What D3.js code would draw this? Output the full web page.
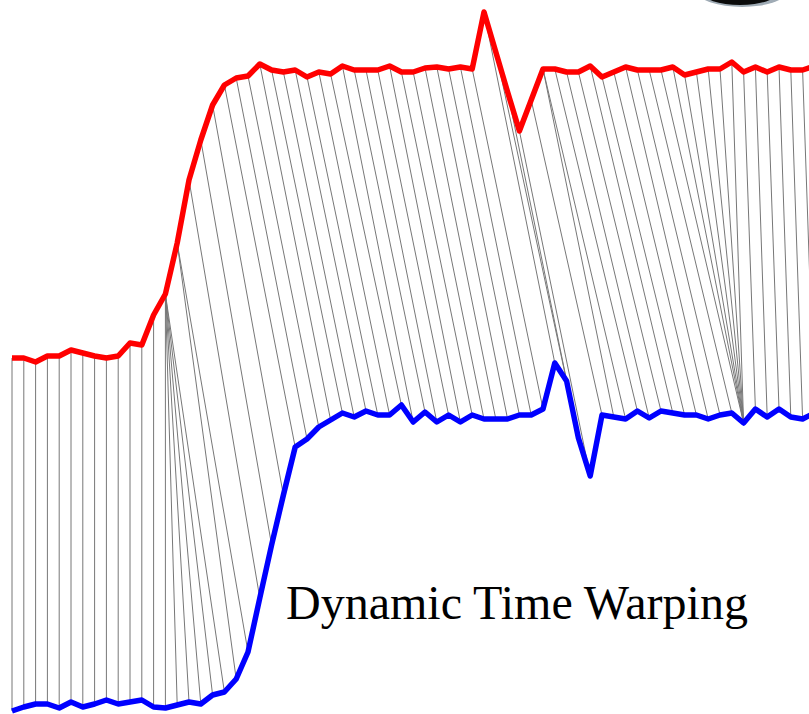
<!DOCTYPE html>
<html>
<head>
<meta charset="utf-8">
<script src="https://cdn.jsdelivr.net/npm/d3@7"></script>
<style>
  html, body { margin: 0; padding: 0; background: #ffffff; }
  svg { display: block; }
</style>
</head>
<body>
<div id="chart"></div>
<script>
// ---- data ----
// red series (upper signal) values, one per time step
const redValues = [356, 356, 352, 358, 358, 364, 361, 358, 356, 358,
  371, 369, 399, 420, 471, 534, 574, 609, 629, 636,
  638, 650, 644, 642, 644, 637, 642, 640, 648, 644,
  644, 644, 648, 642, 642, 646, 647, 645, 647, 645,
  702, 662, 622, 583, 614, 645, 645, 642, 642, 648,
  637, 642, 647, 644, 644, 644, 647, 639, 642, 645,
  645, 652, 642, 647, 642, 647, 644, 644, 648];

// blue series (lower signal) values, one per time step
const blueValues = [3, 7, 10, 10, 6, 12, 7, 10, 14, 10,
  12, 14, 7, 6, 9, 12, 10, 19, 22, 35,
  62, 116, 169, 219, 267, 275, 287, 294, 301, 297,
  303, 299, 299, 309, 292, 302, 292, 299, 292, 299,
  295, 295, 295, 299, 299, 305, 351, 333, 276, 238,
  299, 297, 295, 303, 296, 303, 301, 299, 299, 295,
  299, 301, 291, 305, 297, 305, 297, 295, 301];

// warping path: [red index, blue index] pairs
const warpPath = [
  [0,0],[1,1],[2,2],[3,3],[4,4],[5,5],[6,6],[7,7],[8,8],[9,9],[10,10],[11,11],[12,12],
  [13,13],[13,14],[13,15],[13,16],[13,17],[13,18],
  [14,19],[14,20],
  [15,21],[16,22],[17,23],[18,24],[19,25],[20,26],[21,27],[22,28],[23,29],[24,30],
  [25,31],[26,32],[27,33],[28,34],[29,35],[30,36],[31,37],[32,38],[33,39],[34,40],
  [35,41],[36,42],[37,43],[38,44],[39,45],[40,46],[41,47],[42,48],[43,49],[44,50],
  [45,51],[45,52],
  [46,53],[47,54],[48,55],[49,56],[50,57],[51,58],[52,59],[53,60],[54,61],[55,62],
  [56,62],[57,62],[58,62],[59,62],[60,62],[61,62],
  [62,63],[63,64],[64,65],[65,66],[66,67],[67,68]
];

const titleText = "Dynamic Time Warping";

// ---- drawing ----
const W = 809, H = 714;
const svg = d3.select("#chart").append("svg")
  .attr("width", W).attr("height", H)
  .attr("viewBox", `0 0 ${W} ${H}`);

const x = d3.scaleLinear().domain([0, 68]).range([12, 814.4]);
const y = d3.scaleLinear().domain([0, 714]).range([714, 0]);

// dark blob cropped at the top right
svg.append("ellipse")
  .attr("cx", 742).attr("cy", -8).attr("rx", 44).attr("ry", 15)
  .attr("fill", "#5f7383").attr("opacity", 0.6);
svg.append("ellipse")
  .attr("cx", 740).attr("cy", -8).attr("rx", 38).attr("ry", 13)
  .attr("fill", "#0b0b0b");

// warping connections
svg.append("g")
  .selectAll("line")
  .data(warpPath)
  .join("line")
  .attr("x1", d => x(d[0]))
  .attr("y1", d => y(redValues[d[0]]))
  .attr("x2", d => x(d[1]))
  .attr("y2", d => y(blueValues[d[1]]))
  .attr("stroke", "#777777")
  .attr("stroke-width", 1);

const line = d3.line()
  .x((d, i) => x(i))
  .y(d => y(d));

svg.append("path")
  .datum(redValues)
  .attr("d", line)
  .attr("fill", "none")
  .attr("stroke", "#ff0000")
  .attr("stroke-width", 5.5)
  .attr("stroke-linejoin", "round");

svg.append("path")
  .datum(blueValues)
  .attr("d", line)
  .attr("fill", "none")
  .attr("stroke", "#0000ff")
  .attr("stroke-width", 5.5)
  .attr("stroke-linejoin", "round");

svg.append("text")
  .attr("x", 286)
  .attr("y", 619)
  .attr("font-family", "'Liberation Serif', 'Times New Roman', serif")
  .attr("font-size", 48)
  .attr("fill", "#000")
  .text(titleText);
</script>
</body>
</html>
